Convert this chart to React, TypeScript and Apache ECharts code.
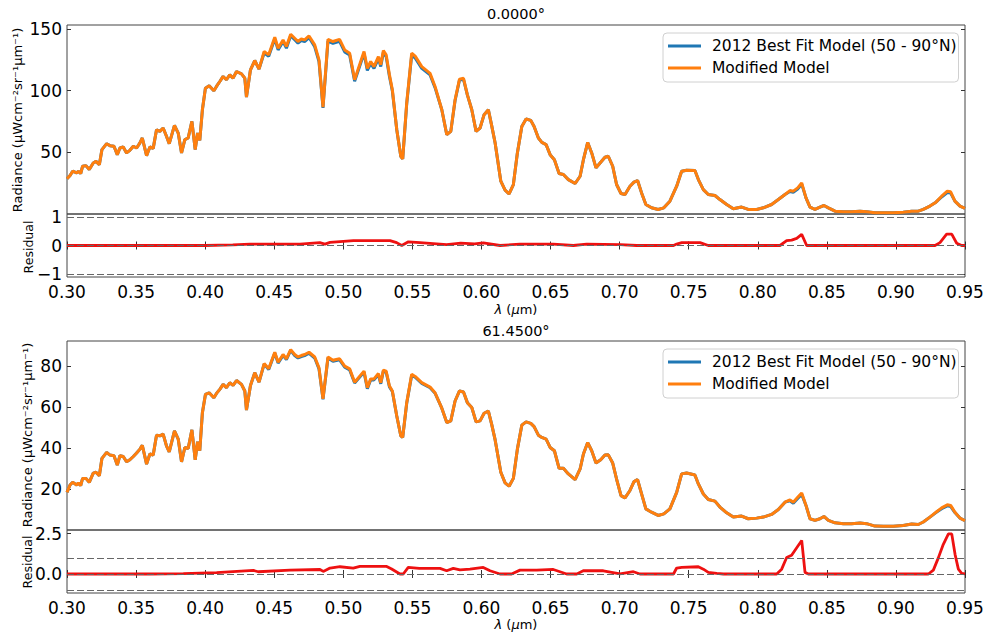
import React, { useEffect, useRef } from "react";
import * as echarts from "echarts";

// Wavelength grid (µm) shared by the model spectra
const wavelength = [
  0.3000, 0.3022, 0.3041, 0.3070, 0.3082, 0.3099, 0.3113, 0.3137, 0.3161, 0.3190,
  0.3210, 0.3234, 0.3253, 0.3287, 0.3311, 0.3340, 0.3364, 0.3383, 0.3407, 0.3431,
  0.3455, 0.3480, 0.3504, 0.3528, 0.3545, 0.3576, 0.3600, 0.3624, 0.3648, 0.3672,
  0.3696, 0.3720, 0.3740, 0.3778, 0.3805, 0.3829, 0.3853, 0.3877, 0.3904, 0.3928,
  0.3945, 0.3961, 0.3980, 0.4002, 0.4029, 0.4063, 0.4082, 0.4106, 0.4130, 0.4154,
  0.4178, 0.4202, 0.4227, 0.4263, 0.4287, 0.4299, 0.4328, 0.4359, 0.4390, 0.4427,
  0.4460, 0.4504, 0.4528, 0.4564, 0.4588, 0.4619, 0.4648, 0.4672, 0.4696, 0.4720,
  0.4752, 0.4793, 0.4824, 0.4853, 0.4889, 0.4925, 0.4973, 0.5010, 0.5046, 0.5082,
  0.5150, 0.5174, 0.5198, 0.5222, 0.5254, 0.5271, 0.5290, 0.5310, 0.5334, 0.5355,
  0.5387, 0.5416, 0.5430, 0.5459, 0.5495, 0.5520, 0.5568, 0.5628, 0.5664, 0.5713,
  0.5749, 0.5778, 0.5809, 0.5841, 0.5870, 0.5898, 0.5930, 0.5961, 0.5990, 0.6019,
  0.6050, 0.6074, 0.6099, 0.6140, 0.6171, 0.6200, 0.6231, 0.6260, 0.6292, 0.6323,
  0.6357, 0.6381, 0.6412, 0.6437, 0.6468, 0.6497, 0.6528, 0.6562, 0.6593, 0.6629,
  0.6678, 0.6714, 0.6738, 0.6769, 0.6798, 0.6829, 0.6863, 0.6894, 0.6918, 0.6950,
  0.6978, 0.7010, 0.7039, 0.7075, 0.7104, 0.7130, 0.7159, 0.7190, 0.7231, 0.7279,
  0.7320, 0.7364, 0.7413, 0.7449, 0.7485, 0.7545, 0.7570, 0.7606, 0.7642, 0.7690,
  0.7726, 0.7775, 0.7823, 0.7883, 0.7931, 0.7992, 0.8040, 0.8100, 0.8149, 0.8197,
  0.8233, 0.8257, 0.8289, 0.8318, 0.8349, 0.8378, 0.8414, 0.8450, 0.8479, 0.8511,
  0.8559, 0.8619, 0.8679, 0.8740, 0.8788, 0.8848, 0.8909, 0.8981, 0.9053, 0.9114,
  0.9162, 0.9198, 0.9246, 0.9290, 0.9331, 0.9372, 0.9396, 0.9427, 0.9464, 0.9500,
];

// 0.0000° panel
const modified0 = [
  28.5, 31.2, 34.7, 33.3, 34.7, 32.8, 38.7, 39.2, 36.0, 41.4,
  42.7, 40.0, 52.2, 57.0, 55.4, 54.9, 48.1, 53.5, 54.3, 49.5,
  51.6, 54.9, 53.5, 57.6, 61.6, 47.3, 54.3, 53.2, 68.3, 67.0,
  69.7, 63.0, 57.0, 71.8, 65.6, 49.5, 60.3, 61.6, 75.1, 52.2,
  65.6, 59.7, 84.5, 102.0, 103.9, 99.9, 103.4, 107.4, 111.5, 108.8,
  112.8, 110.1, 115.5, 113.6, 110.1, 94.8, 116.9, 124.4, 117.4, 131.7,
  129.0, 143.3, 134.4, 141.1, 135.7, 145.7, 142.5, 139.8, 141.9, 141.1,
  144.3, 137.1, 124.9, 86.7, 141.6, 139.8, 141.6, 133.0, 130.3, 108.8,
  131.7, 118.0, 123.6, 119.5, 127.6, 121.0, 132.5, 129.0, 112.8, 100.7,
  68.3, 46.8, 44.6, 90.0, 130.3, 128.0, 119.5, 114.0, 103.4, 84.5,
  64.3, 67.0, 92.6, 109.3, 110.0, 96.6, 84.5, 67.0, 69.7, 80.5,
  84.5, 71.6, 57.6, 26.6, 19.3, 16.3, 23.9, 49.5, 71.0, 77.0,
  75.9, 71.0, 61.6, 58.0, 56.2, 48.1, 44.0, 32.8, 32.0, 27.9,
  24.7, 30.6, 44.0, 58.0, 49.5, 37.4, 42.0, 46.0, 46.8, 38.7,
  23.9, 16.6, 15.8, 22.5, 25.8, 27.1, 17.1, 7.7, 5.0, 3.7,
  5.0, 10.4, 22.5, 34.7, 35.5, 35.2, 27.9, 19.8, 15.8, 15.0,
  11.7, 7.7, 4.2, 5.6, 3.7, 3.7, 5.0, 7.7, 11.7, 15.8,
  19.0, 18.5, 21.2, 25.2, 13.1, 5.6, 3.7, 5.6, 6.9, 5.0,
  2.3, 1.8, 1.8, 2.3, 1.8, 1.0, 1.0, 1.0, 1.5, 2.3,
  2.3, 3.7, 6.4, 9.6, 14.4, 18.5, 18.0, 10.4, 6.4, 4.5,
];
const bestFit0 = [
  28.5, 31.2, 34.7, 33.3, 34.7, 32.8, 38.7, 39.2, 36.0, 41.4,
  42.7, 40.0, 52.2, 57.0, 55.4, 54.9, 48.1, 53.5, 54.3, 49.5,
  51.6, 54.9, 53.5, 57.6, 61.6, 47.3, 54.3, 53.2, 68.3, 67.0,
  69.7, 63.0, 57.0, 71.8, 65.6, 49.5, 60.3, 61.6, 75.1, 52.2,
  65.6, 59.7, 84.5, 102.0, 103.9, 99.9, 103.4, 107.4, 111.5, 108.8,
  112.8, 110.1, 115.5, 113.6, 110.1, 94.8, 116.9, 124.4, 117.4, 130.5,
  127.8, 142.0, 133.0, 139.8, 134.4, 144.5, 141.2, 138.5, 140.6, 139.8,
  143.0, 135.6, 123.6, 86.0, 140.2, 138.3, 140.0, 131.4, 128.8, 107.6,
  130.2, 116.4, 122.0, 118.0, 126.0, 119.6, 131.0, 127.6, 111.5, 99.8,
  68.3, 46.8, 44.6, 89.3, 128.8, 126.4, 118.0, 112.8, 102.4, 84.5,
  64.3, 67.0, 92.0, 108.5, 109.2, 96.6, 84.5, 67.0, 69.7, 80.5,
  84.5, 71.6, 57.6, 26.6, 19.3, 16.3, 23.9, 49.5, 71.0, 77.0,
  75.9, 71.0, 61.6, 58.0, 56.2, 48.1, 44.0, 32.8, 32.0, 27.9,
  24.7, 30.6, 44.0, 58.0, 49.5, 37.4, 42.0, 46.0, 46.8, 38.7,
  23.9, 16.6, 15.8, 22.5, 25.8, 27.1, 17.1, 7.7, 5.0, 3.7,
  5.0, 10.4, 22.5, 34.7, 35.5, 35.2, 27.9, 19.8, 15.8, 15.0,
  11.7, 7.7, 4.2, 5.6, 3.7, 3.7, 5.0, 7.7, 11.7, 15.8,
  18.2, 17.7, 20.3, 24.2, 13.1, 5.6, 3.7, 5.6, 6.9, 5.0,
  2.3, 1.8, 1.8, 2.3, 1.8, 1.0, 1.0, 1.0, 1.5, 2.3,
  2.3, 3.7, 6.4, 9.6, 13.8, 17.4, 17.0, 10.4, 6.4, 4.5,
];

// 61.4500° panel
const modified61 = [
  18.4, 22.0, 23.3, 22.0, 23.0, 21.7, 25.2, 25.2, 23.3, 27.8,
  28.2, 26.5, 35.0, 37.9, 36.6, 36.3, 31.7, 36.3, 35.9, 33.3,
  34.3, 35.9, 37.6, 39.5, 41.4, 32.2, 37.1, 36.6, 46.3, 46.0,
  46.8, 41.1, 38.2, 48.4, 44.4, 33.3, 40.3, 39.8, 48.9, 34.3,
  43.1, 38.7, 57.3, 66.2, 67.0, 64.6, 66.7, 68.7, 71.1, 69.5,
  71.9, 70.6, 73.0, 71.1, 67.9, 58.6, 70.6, 76.8, 72.2, 81.3,
  78.7, 86.8, 81.9, 85.7, 83.6, 88.1, 85.7, 84.5, 85.2, 85.7,
  86.8, 84.5, 79.2, 64.1, 84.5, 82.9, 83.6, 80.0, 78.7, 72.2,
  77.6, 69.5, 73.8, 73.8, 76.4, 71.9, 78.1, 77.6, 70.3, 67.9,
  55.7, 46.0, 45.2, 62.2, 76.0, 75.0, 72.0, 69.8, 67.0, 59.5,
  52.5, 53.3, 63.0, 67.9, 67.4, 62.2, 59.8, 52.8, 53.3, 57.0,
  58.1, 51.6, 44.0, 28.2, 23.0, 21.4, 25.2, 39.5, 51.2, 52.8,
  52.1, 50.5, 46.3, 45.2, 44.4, 40.3, 38.7, 30.1, 30.1, 27.4,
  24.6, 29.8, 37.1, 42.7, 38.7, 32.7, 34.3, 36.6, 36.7, 32.7,
  24.9, 16.8, 15.7, 19.3, 23.6, 24.6, 17.6, 10.3, 8.7, 7.1,
  7.9, 10.3, 18.4, 27.4, 27.8, 26.9, 22.5, 17.6, 14.9, 14.1,
  11.2, 8.4, 6.3, 6.8, 5.5, 5.8, 6.3, 7.6, 10.0, 13.6,
  14.7, 13.6, 16.0, 18.1, 12.0, 5.5, 4.7, 5.5, 6.6, 4.7,
  3.5, 3.1, 3.1, 3.4, 3.1, 1.9, 1.8, 1.8, 2.2, 2.9,
  2.7, 3.9, 6.3, 8.7, 10.8, 12.3, 12.0, 8.7, 5.8, 4.5,
];
const bestFit61 = [
  18.4, 22.0, 23.3, 22.0, 23.0, 21.7, 25.2, 25.2, 23.3, 27.8,
  28.2, 26.5, 35.0, 37.9, 36.6, 36.3, 31.7, 36.3, 35.9, 33.3,
  34.3, 35.9, 37.6, 39.5, 41.4, 32.2, 37.1, 36.6, 46.3, 46.0,
  46.8, 41.1, 38.2, 48.4, 44.4, 33.3, 40.3, 39.8, 48.9, 34.3,
  43.1, 38.7, 57.3, 66.2, 67.0, 64.6, 66.7, 68.7, 71.1, 69.5,
  71.9, 70.6, 73.0, 71.1, 67.9, 58.6, 70.6, 76.8, 72.2, 81.0,
  78.4, 86.4, 81.5, 85.3, 83.2, 87.7, 85.2, 84.0, 84.7, 85.2,
  86.3, 84.0, 78.7, 63.8, 84.0, 82.4, 83.1, 79.5, 78.2, 71.8,
  77.1, 69.0, 73.3, 73.3, 75.9, 71.4, 77.6, 77.1, 69.9, 67.6,
  55.7, 46.0, 45.2, 61.9, 75.6, 74.6, 71.6, 69.5, 66.8, 59.5,
  52.5, 53.3, 63.0, 67.9, 67.4, 62.2, 59.8, 52.8, 53.3, 57.0,
  58.1, 51.6, 44.0, 28.2, 23.0, 21.4, 25.2, 39.5, 51.2, 52.8,
  52.1, 50.5, 46.3, 45.2, 44.4, 40.3, 38.7, 30.1, 30.1, 27.4,
  24.6, 29.8, 37.1, 42.7, 38.7, 32.7, 34.3, 36.6, 36.7, 32.7,
  24.9, 16.8, 15.7, 19.3, 23.6, 24.6, 17.6, 10.3, 8.7, 7.1,
  7.9, 10.3, 18.4, 27.4, 27.8, 26.9, 22.5, 17.6, 14.9, 14.1,
  11.2, 8.4, 6.3, 6.8, 5.5, 5.8, 6.3, 7.6, 10.0, 13.6,
  14.3, 13.1, 15.4, 17.4, 12.0, 5.5, 4.7, 5.5, 6.6, 4.7,
  3.5, 3.1, 3.1, 3.4, 3.1, 1.9, 1.8, 1.8, 2.2, 2.9,
  2.7, 3.9, 6.3, 8.5, 10.4, 11.8, 11.5, 8.5, 5.8, 4.5,
];

// Residuals [wavelength, residual]
const residual0 = [
  [0.300, 0], [0.400, 0], [0.420, 0.02], [0.4325, 0.05], [0.4686, 0.05], [0.483, 0.1],
  [0.4867, 0.05], [0.4904, 0.11], [0.5073, 0.17], [0.5338, 0.17], [0.5386, 0.1], [0.5423, 0],
  [0.5471, 0.13], [0.5555, 0.1], [0.5748, 0.03], [0.585, 0.08], [0.595, 0.06], [0.6014, 0.09],
  [0.6134, 0], [0.6279, 0.05], [0.652, 0.05], [0.6665, 0], [0.6762, 0.05], [0.7003, 0.03],
  [0.7124, 0], [0.739, 0], [0.7413, 0.05], [0.745, 0.1], [0.7582, 0.1], [0.7642, 0],
  [0.8161, 0], [0.8209, 0.17], [0.8245, 0.19], [0.8282, 0.25], [0.8318, 0.39], [0.8354, 0],
  [0.9283, 0], [0.9319, 0.1], [0.9367, 0.4], [0.9404, 0.4], [0.944, 0.08], [0.9476, 0], [0.95, 0],
];
const residual61 = [
  [0.300, 0], [0.360, 0], [0.3842, 0.02], [0.4083, 0.08], [0.4349, 0.22], [0.4385, 0.14],
  [0.4614, 0.24], [0.4831, 0.28], [0.4855, 0.16], [0.4904, 0.37], [0.4976, 0.45], [0.5072, 0.37],
  [0.512, 0.47], [0.5314, 0.47], [0.535, 0.31], [0.541, 0], [0.5434, 0], [0.547, 0.41],
  [0.555, 0.35], [0.57, 0.35], [0.5748, 0.2], [0.5796, 0.35], [0.5844, 0.25], [0.5917, 0.3],
  [0.6013, 0.41], [0.6062, 0.2], [0.6134, 0], [0.6218, 0], [0.6279, 0.24], [0.64, 0.24],
  [0.652, 0.28], [0.6617, 0], [0.669, 0], [0.6737, 0.2], [0.6882, 0.2], [0.7003, 0],
  [0.71, 0.14], [0.7147, 0], [0.739, 0], [0.7413, 0.37], [0.745, 0.41], [0.757, 0.45],
  [0.7606, 0.3], [0.7642, 0.1], [0.7703, 0.04], [0.775, 0], [0.8137, 0], [0.8173, 0.3],
  [0.8209, 1.02], [0.8245, 1.16], [0.8282, 1.63], [0.8318, 2.08], [0.8342, 0.1], [0.8366, 0],
  [0.9235, 0], [0.9271, 0.24], [0.9307, 1.0], [0.9343, 1.84], [0.938, 2.49], [0.9404, 2.49],
  [0.9428, 1.22], [0.9452, 0.3], [0.9476, 0.04], [0.95, 0],
];

const residualGuides = [-1, 0, 1];
const radianceTicks0 = [50, 100, 150];
const radianceTicks61 = [20, 40, 60, 80];
const residualTicks0 = [-1, 0, 1];
const residualTicks61 = [0, 2.5];
const panelTitles = ["0.0000°", "61.4500°"];
const legendNames = ["2012 Best Fit Model (50 - 90°N)", "Modified Model"];
const radianceLabel = "Radiance (μWcm⁻²sr⁻¹μm⁻¹)";

const FONT = "DejaVu Sans";
const BLUE = "#1f77b4";
const ORANGE = "#ff7f0e";
const RED = "#ee1111";

function buildOption() {
  const pair = (arr: number[]) => wavelength.map((w, i) => [w, arr[i]]);
  const L = 67;
  const W = 898;
  const grids = [
    { top: 25, height: 189 },
    { top: 214, height: 63 },
    { top: 341, height: 189 },
    { top: 530, height: 63 },
  ].map((g) => ({
    left: L,
    width: W,
    top: g.top,
    height: g.height,
    show: true,
    borderColor: "#444",
    borderWidth: 1,
    backgroundColor: "transparent",
    containLabel: false,
  }));

  const tickStyle = { color: "#333", width: 1 };
  const labelFont = { fontFamily: FONT, fontSize: 17, color: "#000", lineHeight: 12 };

  const xAx = (gridIndex: number, labels: boolean, position = "bottom", ticks = true) => ({
    type: "value",
    gridIndex,
    position,
    min: 0.3,
    max: 0.95,
    interval: 0.05,
    axisLine: { show: false },
    splitLine: { show: false },
    axisTick: { show: ticks, inside: true, length: 4, lineStyle: tickStyle },
    axisLabel: {
      show: labels,
      margin: 9,
      ...labelFont,
      formatter: (v: number) => v.toFixed(2),
    },
  });

  const fmtMinus = (v: number) => (v < 0 ? "−" + String(Math.abs(v)) : String(v));

  const yAx = (
    gridIndex: number,
    min: number,
    max: number,
    ticks: number[],
    labels: boolean,
    fmt: (v: number) => string,
    position = "left"
  ) => ({
    type: "value",
    gridIndex,
    position,
    min,
    max,
    axisLine: { show: false },
    splitLine: { show: false },
    axisTick: { show: true, inside: true, length: 4, lineStyle: tickStyle, customValues: ticks },
    axisLabel: { show: labels, margin: 5, ...labelFont, customValues: ticks, formatter: fmt },
  });

  const xAxis = [
    xAx(0, false, "bottom", false),
    xAx(1, true, "bottom"),
    xAx(1, false, "top"),
    xAx(2, false, "bottom", false),
    xAx(3, true, "bottom"),
    xAx(3, false, "top"),
  ];

  const yAxis = [
    yAx(0, 0, 153.2, radianceTicks0, true, (v) => String(v)),
    yAx(0, 0, 153.2, radianceTicks0, false, (v) => String(v), "right"),
    yAx(1, -1.1, 1.1, residualTicks0, true, fmtMinus),
    yAx(1, -1.1, 1.1, residualTicks0, false, fmtMinus, "right"),
    yAx(2, 0, 92.3, radianceTicks61, true, (v) => String(v)),
    yAx(2, 0, 92.3, radianceTicks61, false, (v) => String(v), "right"),
    yAx(3, -1.18, 2.73, residualTicks61, true, (v) => v.toFixed(1)),
    yAx(3, -1.18, 2.73, residualTicks61, false, (v) => v.toFixed(1), "right"),
  ];

  const lineSeries = (name: string, data: any[], color: string, xi: number, yi: number, width = 3) => ({
    name,
    type: "line",
    xAxisIndex: xi,
    yAxisIndex: yi,
    data,
    symbol: "none",
    showSymbol: false,
    lineStyle: { color, width },
    itemStyle: { color },
    emphasis: { disabled: true },
  });

  const guides = {
    silent: true,
    symbol: "none",
    label: { show: false },
    lineStyle: { type: [7, 3], color: "#666", width: 1 },
    data: residualGuides.map((v) => ({ yAxis: v })),
  };

  const series = [
    lineSeries(legendNames[0], pair(bestFit0), BLUE, 0, 0),
    lineSeries(legendNames[1], pair(modified0), ORANGE, 0, 0),
    { ...lineSeries("Residual 0.0000°", residual0, RED, 1, 2, 2.8), markLine: guides },
    lineSeries(legendNames[0], pair(bestFit61), BLUE, 3, 4),
    lineSeries(legendNames[1], pair(modified61), ORANGE, 3, 4),
    { ...lineSeries("Residual 61.4500°", residual61, RED, 4, 6, 2.8), markLine: guides },
  ];

  const legend = [33, 349].map((top) => ({
    orient: "vertical",
    left: 663,
    top,
    padding: [4, 2, 5, 5],
    itemWidth: 33,
    itemHeight: 3,
    itemGap: 4,
    icon: "rect",
    selectedMode: false,
    backgroundColor: "rgba(255,255,255,0.85)",
    borderColor: "#d0d0d0",
    borderWidth: 1,
    borderRadius: 4,
    textStyle: { fontFamily: FONT, fontSize: 15.5, color: "#000", lineHeight: 18, padding: [0, 0, 0, 6] },
    data: legendNames,
  }));

  const txt = (x: number, y: number, text: string, fontSize: number, rotation = 0, rich?: any) => ({
    type: "text",
    x,
    y,
    rotation,
    silent: true,
    style: {
      text,
      fontFamily: FONT,
      fontSize,
      fill: "#000",
      align: "center",
      verticalAlign: "middle",
      ...(rich ? { rich } : {}),
    },
  });

  const italic = { i: { fontStyle: "italic", fontFamily: FONT, fontSize: 13, fill: "#000" } };
  const R = Math.PI / 2;
  const graphic = [
    txt(516, 14, panelTitles[0], 14.5),
    txt(516, 330.5, panelTitles[1], 14.5),
    txt(516, 309, "{i|λ} ({i|μ}m)", 13, 0, italic),
    txt(516, 624, "{i|λ} ({i|μ}m)", 13, 0, italic),
    txt(17, 120, radianceLabel, 13, R),
    txt(28, 247, "Residual", 12.5, R),
    txt(27, 435, radianceLabel, 13, R),
    txt(27, 562, "Residual", 12.5, R),
  ];

  return {
    animation: false,
    backgroundColor: "#fff",
    grid: grids,
    xAxis,
    yAxis,
    legend,
    graphic,
    series,
  };
}

export default function App() {
  const ref = useRef<HTMLDivElement>(null);
  useEffect(() => {
    if (!ref.current) return;
    const chart = echarts.init(ref.current, undefined, { renderer: "svg" });
    chart.setOption(buildOption() as any);
    return () => chart.dispose();
  }, []);
  return (
    <div
      ref={ref}
      style={{ position: "absolute", left: 0, top: 0, width: 988, height: 632, background: "#fff" }}
    />
  );
}
